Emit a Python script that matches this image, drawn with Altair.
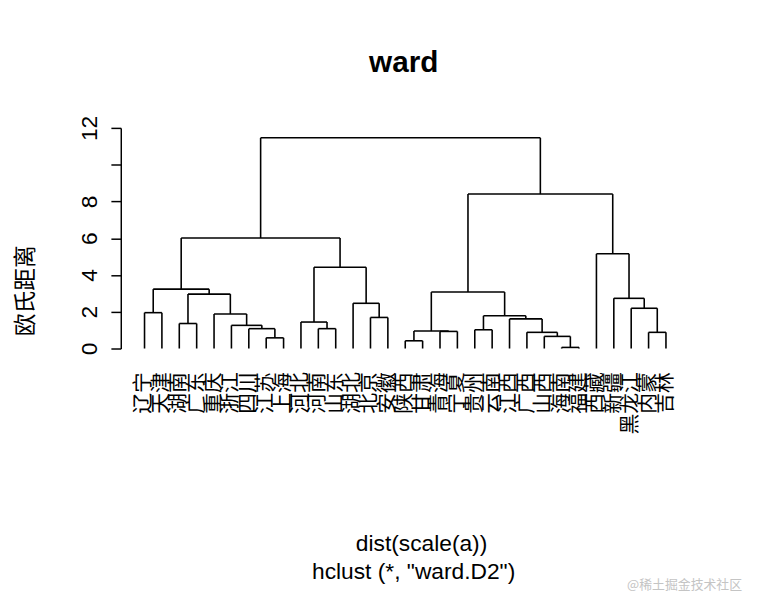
import altair as alt
import pandas as pd

# ---------------- data ----------------
leaf_labels = ["辽宁", "天津", "湖南", "广东", "重庆", "浙江", "四川", "江苏", "上海",
               "河北", "河南", "山东", "湖北", "北京", "安徽", "陕西", "甘肃", "青海",
               "宁夏", "贵州", "云南", "江西", "广西", "山西", "海南", "福建", "西藏",
               "新疆", "黑龙江", "内蒙", "吉林"]

# R-style merge matrix: negative = leaf (1-based position in plotted order), positive = earlier merge
merge_left = [-25, -16, -8, -24, -30, -23, -18, 2, -20, -7, -11, -6, -3, -10, -22,
              -14, 9, -5, -1, -29, -13, -28, 13, 8, 19, 14, -27, 25, 24, 28]
merge_right = [-26, -17, -9, 1, -31, 4, -19, 7, -21, 3, -12, 10, -4, 11, 6,
               -15, 15, 12, -2, 5, 16, 20, 18, 17, 23, 21, 22, 26, 27, 29]
merge_height = [0.06, 0.42, 0.58, 0.66, 0.88, 0.88, 0.93, 0.95, 1.02, 1.08, 1.08, 1.26, 1.36,
                1.44, 1.61, 1.69, 1.78, 1.88, 1.95, 2.19, 2.46, 2.73, 2.96, 3.07, 3.23,
                4.42, 5.15, 6.01, 8.40, 11.46]

y_ticks = [0, 2, 4, 6, 8, 10, 12]
title_text = "ward"
y_title = "欧氏距离"
x_title = "dist(scale(a))"
sub_title = 'hclust (*, "ward.D2")'
watermark = "@稀土掘金技术社区"

# ---------------- build segments ----------------
pos = {}
hgt = {}
segs = []


def node(ref):
    if ref < 0:
        return float(-ref - 1), 0.0
    return pos[ref], hgt[ref]


for k, (a, b, h) in enumerate(zip(merge_left, merge_right, merge_height), start=1):
    xa, ha = node(a)
    xb, hb = node(b)
    segs.append({"x": xa, "x2": xa, "y": ha, "y2": h})
    segs.append({"x": xb, "x2": xb, "y": hb, "y2": h})
    segs.append({"x": xa, "x2": xb, "y": h, "y2": h})
    pos[k] = (xa + xb) / 2
    hgt[k] = h

seg_df = pd.DataFrame(segs)
lab_df = pd.DataFrame({"i": list(range(len(leaf_labels))), "label": leaf_labels})

W, H = 576, 223
xscale = alt.Scale(domain=[-1.366, 31.42], nice=False, zero=False)
yscale = alt.Scale(domain=[0, 12], nice=False, zero=False)

tree = alt.Chart(seg_df).mark_rule(color="black", strokeWidth=1.6).encode(
    x=alt.X("x:Q", scale=xscale, axis=None),
    x2="x2:Q",
    y=alt.Y("y:Q", scale=yscale,
            axis=alt.Axis(title=y_title, values=y_ticks, grid=False,
                          labelExpr="datum.value == 10 ? '' : datum.label",
                          labelAngle=270, labelAlign="center", labelBaseline="bottom",
                          labelFont="Liberation Sans", labelFontSize=23, labelColor="black",
                          labelPadding=10, tickSize=10, tickColor="black", tickWidth=1.5,
                          domainColor="black", domainWidth=1.5,
                          titleFont="Noto Sans CJK SC", titleFontSize=23, titleFontWeight="normal",
                          titleColor="black", titleAngle=270, titleAlign="center",
                          titleBaseline="middle", titleX=-96, titleY=164)),
    y2="y2:Q",
)

labels = alt.Chart(lab_df).mark_text(
    angle=270, align="right", baseline="middle", font="Noto Sans CJK SC",
    fontSize=21, color="black"
).encode(
    x=alt.X("i:Q", scale=xscale),
    y=alt.value(H + 24),
    text="label:N",
)

xlab = alt.Chart(pd.DataFrame({"t": [x_title]})).mark_text(
    align="center", baseline="middle", font="Liberation Sans", fontSize=23, color="black"
).encode(x=alt.value(304), y=alt.value(421), text="t:N")

sub = alt.Chart(pd.DataFrame({"t": [sub_title]})).mark_text(
    align="center", baseline="middle", font="Liberation Sans", fontSize=23, color="black"
).encode(x=alt.value(296), y=alt.value(449), text="t:N")

wm = alt.Chart(pd.DataFrame({"t": [watermark]})).mark_text(
    align="right", baseline="middle", font="Noto Sans CJK SC", fontSize=13, color="#c4c4c4"
).encode(x=alt.value(628), y=alt.value(462), text="t:N")

chart = alt.layer(tree, labels, xlab, sub, wm).properties(
    width=W, height=H,
    title=alt.TitleParams(title_text, font="Liberation Sans", fontSize=30, fontWeight="bold",
                          color="black", offset=38, dx=-2),
    autosize=alt.AutoSizeParams(type="none"),
    padding={"left": 114, "top": 118, "right": 60, "bottom": 250},
).configure(background="white", view=alt.ViewConfig(stroke=None))

chart.save("out.html", embed_options={"renderer": "svg", "actions": False})
